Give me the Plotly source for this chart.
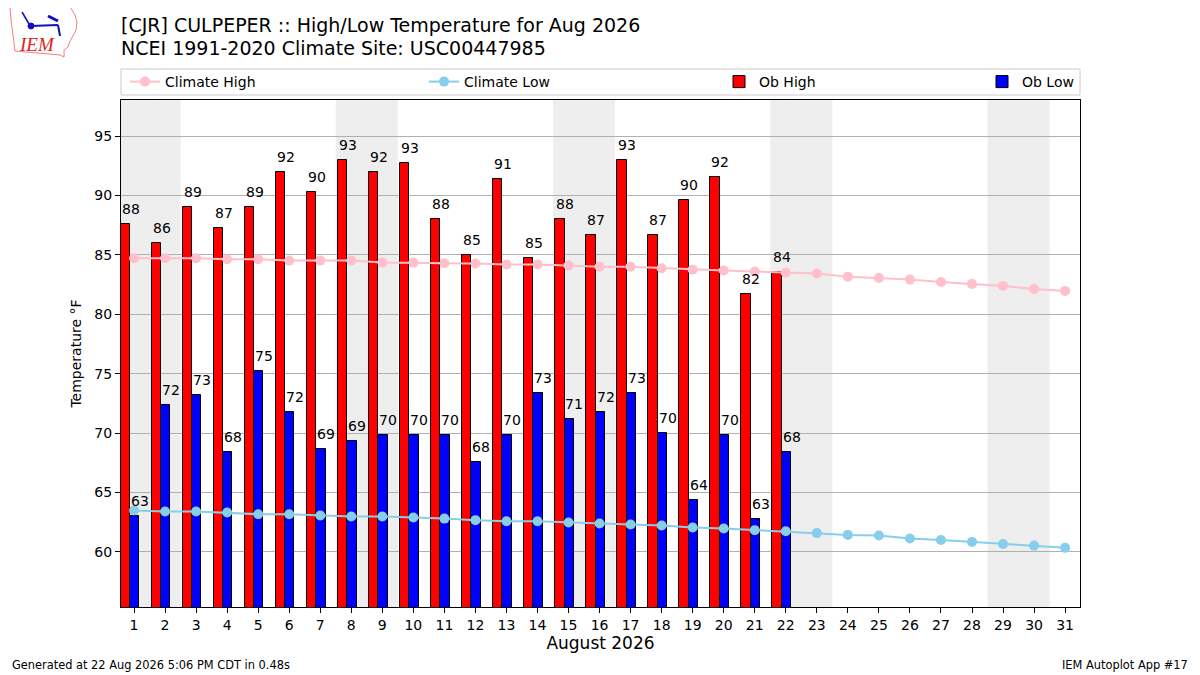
import plotly.graph_objects as go

# ---------------- data ----------------
days = list(range(1, 32))
ob_days = list(range(1, 23))
ob_high = [87.6, 86.0, 89.0, 87.3, 89.0, 92.0, 90.3, 93.0, 92.0, 92.7, 88.0,
           85.0, 91.4, 84.7, 88.0, 86.7, 93.0, 86.7, 89.6, 91.6, 81.7, 83.6]
ob_low = [63.0, 72.4, 73.2, 68.4, 75.2, 71.8, 68.7, 69.3, 69.8, 69.8, 69.8,
          67.6, 69.8, 73.4, 71.2, 71.8, 73.4, 70.0, 64.4, 69.8, 62.8, 68.4]
clim_high = [84.72, 84.72, 84.72, 84.63, 84.63, 84.52, 84.52, 84.52, 84.35, 84.35,
             84.30, 84.27, 84.20, 84.20, 84.10, 84.00, 84.00, 83.88, 83.76, 83.68,
             83.60, 83.50, 83.43, 83.17, 83.06, 82.92, 82.72, 82.56, 82.39, 82.13, 81.97]
clim_low = [63.48, 63.40, 63.40, 63.31, 63.17, 63.17, 63.06, 62.98, 62.98, 62.90,
            62.80, 62.67, 62.58, 62.58, 62.47, 62.39, 62.30, 62.22, 62.05, 61.97,
            61.83, 61.74, 61.58, 61.43, 61.38, 61.12, 61.00, 60.84, 60.67, 60.53, 60.34]
weekend_starts = [1, 8, 15, 22, 29]  # Sat/Sun pairs
x_ticks = list(range(1, 32))
y_ticks = [60, 65, 70, 75, 80, 85, 90, 95]

title1 = "[CJR] CULPEPER :: High/Low Temperature for Aug 2026"
title2 = "NCEI 1991-2020 Climate Site: USC00447985"
footer_left = "Generated at 22 Aug 2026 5:06 PM CDT in 0.48s"
footer_right = "IEM Autoplot App #17"

# ---------------- geometry helpers ----------------
OFF = 8  # page body margin
W, H = 1200 - OFF, 675 - OFF
PL, PR, PT, PB = 121, 1080, 100, 607  # plot area in screen pixels
X_RANGE = [0.58, 31.48]
BAR_W = 0.3
RED_OFF = -0.28
BLUE_OFF = 0.02
BAR_PX = BAR_W * (PR - PL) / (X_RANGE[1] - X_RANGE[0])


def px(x):
    return (x - PL) / (PR - PL)


def py(y):
    return (PB - y) / (PB - PT)


FONT = "DejaVu Sans"

fig = go.Figure()

shapes = []
for s in weekend_starts:
    shapes.append(dict(type="rect", xref="x", yref="paper", x0=s - 0.5, x1=s + 1.5,
                       y0=0, y1=1, fillcolor="#eeeeee", line=dict(width=0), layer="below"))

fig.add_trace(go.Bar(x=[d + RED_OFF for d in ob_days], y=ob_high, width=BAR_W,
                     marker=dict(color="#ff0000", line=dict(color="black", width=1)),
                     name="Ob High", legend="legend3"))
fig.add_trace(go.Bar(x=[d + BLUE_OFF for d in ob_days], y=ob_low, width=BAR_W,
                     marker=dict(color="#0000ff", line=dict(color="black", width=1)),
                     name="Ob Low", legend="legend4"))
fig.add_trace(go.Scatter(x=days, y=clim_high, mode="lines+markers", name="Climate High",
                         line=dict(color="#ffc0cb", width=2), marker=dict(color="#ffc0cb", size=10),
                         legend="legend"))
fig.add_trace(go.Scatter(x=days, y=clim_low, mode="lines+markers", name="Climate Low",
                         line=dict(color="#87ceeb", width=2), marker=dict(color="#87ceeb", size=10),
                         legend="legend2"))

annotations = []
for d, v in zip(ob_days, ob_high):
    annotations.append(dict(x=d + RED_OFF, y=v, xref="x", yref="y", text=f"{v:.0f}",
                            showarrow=False, xanchor="left", yanchor="bottom",
                            xshift=-BAR_PX / 2 - 1, yshift=5,
                            font=dict(family=FONT, size=14, color="black")))
for d, v in zip(ob_days, ob_low):
    annotations.append(dict(x=d + BLUE_OFF, y=v, xref="x", yref="y", text=f"{v:.0f}",
                            showarrow=False, xanchor="left", yanchor="bottom",
                            xshift=-BAR_PX / 2 - 1, yshift=5,
                            font=dict(family=FONT, size=14, color="black")))

annotations.append(dict(x=px(119), y=py(25), xref="paper", yref="paper", text=title1,
                        showarrow=False, xanchor="left", yanchor="middle",
                        font=dict(family=FONT, size=19, color="black")))
annotations.append(dict(x=px(119), y=py(48), xref="paper", yref="paper", text=title2,
                        showarrow=False, xanchor="left", yanchor="middle",
                        font=dict(family=FONT, size=19, color="black")))
annotations.append(dict(x=px(10), y=py(665), xref="paper", yref="paper", text=footer_left,
                        showarrow=False, xanchor="left", yanchor="middle",
                        font=dict(family=FONT, size=11.4, color="black")))
annotations.append(dict(x=px(1190), y=py(665), xref="paper", yref="paper", text=footer_right,
                        showarrow=False, xanchor="right", yanchor="middle",
                        font=dict(family=FONT, size=11.4, color="black")))
annotations.append(dict(x=px(37), y=py(44), xref="paper", yref="paper", text="<i>IEM</i>",
                        showarrow=False, xanchor="center", yanchor="middle",
                        font=dict(family="Liberation Serif", size=19, color="#dd2222")))

outline = [(10, 7), (70, 7), (72, 10), (75, 15), (77, 22), (76, 30), (73, 36), (70, 41),
           (68, 47), (64, 50), (64, 57), (60, 55), (15, 51), (13, 35), (11, 20)]
path = "M " + " L ".join(f"{px(a):.4f},{py(b):.4f}" for a, b in outline) + " Z"
shapes.append(dict(type="path", xref="paper", yref="paper", path=path,
                   line=dict(color="#f08080", width=1), fillcolor="rgba(0,0,0,0)"))
shapes.append(dict(type="line", xref="paper", yref="paper", x0=px(31), y0=py(26), x1=px(58), y1=py(25),
                   line=dict(color="#1010c0", width=2)))
shapes.append(dict(type="circle", xref="paper", yref="paper", x0=px(28), y0=py(23), x1=px(34), y1=py(29),
                   fillcolor="#1010c0", line=dict(color="#1010c0", width=1)))
shapes.append(dict(type="line", xref="paper", yref="paper", x0=px(22), y0=py(12), x1=px(29), y1=py(24),
                   line=dict(color="#1010c0", width=1.5)))
shapes.append(dict(type="line", xref="paper", yref="paper", x0=px(48), y0=py(16), x1=px(58), y1=py(21),
                   line=dict(color="#1010c0", width=3)))
shapes.append(dict(type="line", xref="paper", yref="paper", x0=px(58), y0=py(25), x1=px(60), y1=py(36),
                   line=dict(color="#1010c0", width=2)))

shapes.append(dict(type="rect", xref="paper", yref="paper", x0=px(121), x1=px(1080), y0=py(95), y1=py(69),
                   line=dict(color="#cccccc", width=1), fillcolor="rgba(0,0,0,0)", layer="below"))

leg_common = dict(orientation="h", yanchor="middle", y=py(82), xanchor="left",
                  bgcolor="rgba(0,0,0,0)", borderwidth=0, visible=True,
                  font=dict(family=FONT, size=14, color="black"))

fig.update_layout(
    width=W, height=H,
    margin=dict(l=PL - OFF, r=W - (PR - OFF), t=PT - OFF, b=H - (PB - OFF), autoexpand=False),
    paper_bgcolor="white", plot_bgcolor="white",
    barmode="overlay", bargap=0, showlegend=True,
    shapes=shapes, annotations=annotations,
    font=dict(family=FONT, size=14, color="black"),
    legend=dict(x=px(125), **leg_common),
    legend2=dict(x=px(424), **leg_common),
    legend3=dict(x=px(719), **leg_common),
    legend4=dict(x=px(982), **leg_common),
    xaxis=dict(range=X_RANGE, tickmode="array", tickvals=x_ticks,
               ticktext=[str(t) for t in x_ticks], showgrid=False, zeroline=False,
               showline=True, linecolor="black", linewidth=1, mirror=True,
               ticks="outside", ticklen=5, tickcolor="black",
               tickfont=dict(family=FONT, size=14),
               title=dict(text="August 2026", font=dict(family=FONT, size=17), standoff=5)),
    yaxis=dict(range=[55.36, 98.04], tickmode="array", tickvals=y_ticks,
               showgrid=True, gridcolor="#b0b0b0", gridwidth=1, zeroline=False,
               showline=True, linecolor="black", linewidth=1, mirror=True,
               ticks="outside", ticklen=5, tickcolor="black",
               tickfont=dict(family=FONT, size=14),
               title=dict(text="Temperature °F", font=dict(family=FONT, size=14), standoff=9)),
)

fig.write_html("out.html")
